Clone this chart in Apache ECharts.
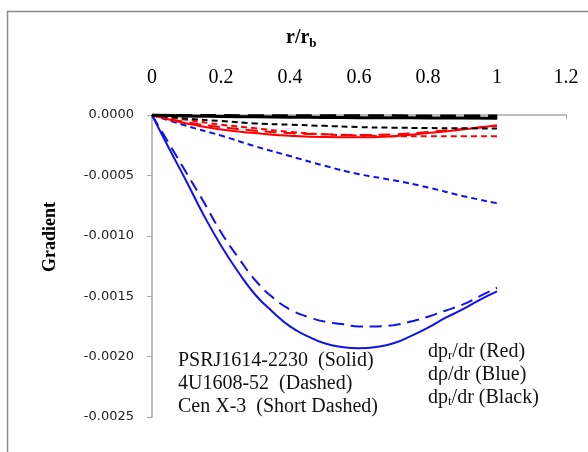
<!DOCTYPE html>
<html lang="en">
<head>
    <meta charset="UTF-8">
    <title>gradient</title>
    <script src="https://cdn.jsdelivr.net/npm/echarts@6/dist/echarts.min.js"></script>
    <style>
        html, body { margin: 0; padding: 0; background: #fff; }
        #chart { width: 588px; height: 452px; }
    </style>
</head>
<body>
    <div id="chart"></div>
</body>
<script type="application/javascript">

    // r/rb grids
    var rFine = [0, 0.05, 0.1, 0.15, 0.2, 0.25, 0.3, 0.35, 0.4, 0.45, 0.5,
                 0.55, 0.6, 0.65, 0.7, 0.75, 0.8, 0.85, 0.9, 0.95, 1.0];
    var rCoarse = [0, 0.1, 0.2, 0.3, 0.4, 0.5, 0.6, 0.7, 0.8, 0.9, 1.0];

    // drho/dr (blue)
    var rhoPSR = [0, -0.00028, -0.00055, -0.00083, -0.00108, -0.0013, -0.00149, -0.00163, -0.00175, -0.00183, -0.00189,
                  -0.00192, -0.00193, -0.00192, -0.00189, -0.00183, -0.00176, -0.00168, -0.00161, -0.00153, -0.00146];
    var rho4U = [0, -0.00024, -0.00048, -0.00072, -0.00097, -0.00118, -0.00137, -0.00151, -0.00161, -0.00167, -0.00171,
                 -0.00173, -0.00175, -0.00175, -0.00174, -0.00171, -0.00167, -0.00162, -0.00157, -0.0015, -0.00143];
    var rhoCen = [0, -0.00009, -0.00017, -0.00026, -0.00034, -0.00042, -0.00049, -0.00054, -0.0006, -0.00067, -0.00073];

    // dpr/dr (red)
    var prPSR = [0, -0.00007, -0.00012, -0.00015, -0.000172, -0.000183, -0.000185, -0.000175, -0.00015, -0.00012, -0.000085];
    var pr4U = [0, -0.00006, -0.0001, -0.00013, -0.00015, -0.00016, -0.000165, -0.00016, -0.00014, -0.000115, -0.00009];
    var prCen = [0, -0.00004, -0.00008, -0.00011, -0.00014, -0.00016, -0.00017, -0.000175, -0.000175, -0.000175, -0.000175];

    // dpt/dr (black)
    var ptPSR = [0, -0.000008, -0.000012, -0.000015, -0.000018, -0.00002, -0.000022, -0.000023, -0.000024, -0.000025, -0.000026];
    var pt4U = [0, -0.000002, -0.000003, -0.000004, -0.000004, -0.000005, -0.000005, -0.000005, -0.000006, -0.000006, -0.000006];
    var ptCen = [0, -0.00003, -0.00005, -0.00007, -0.00008, -0.00009, -0.0001, -0.000105, -0.000108, -0.00011, -0.000112];

    var xTicks = [0, 0.2, 0.4, 0.6, 0.8, 1, 1.2];

    function pairs(xs, ys) {
        var out = [];
        for (var i = 0; i < xs.length; i++) {
            out.push([xs[i], ys[i]]);
        }
        return out;
    }

    function line(name, xs, ys, color, width, dash) {
        return {
            name: name,
            type: 'line',
            data: pairs(xs, ys),
            smooth: true,
            showSymbol: false,
            lineStyle: { color: color, width: width, type: dash },
            animation: false
        };
    }

    var serif = '"Liberation Serif", "Times New Roman", serif';
    var blue = '#1010f0';
    var red = '#ff0000';

    var chart = echarts.init(document.getElementById('chart'));
    var option = {
        backgroundColor: '#fff',
        grid: { left: 152, top: 115, right: 22, bottom: 35 },
        xAxis: {
            type: 'value',
            position: 'top',
            min: 0,
            max: 1.2,
            interval: 0.2,
            axisLine: { lineStyle: { color: '#a6a6a6', width: 1.5 } },
            axisTick: { inside: true, length: 4, lineStyle: { color: '#a6a6a6' } },
            splitLine: { show: false },
            axisLabel: {
                color: '#000',
                fontFamily: serif,
                fontSize: 20,
                margin: 27,
                formatter: function (v) {
                    return xTicks.indexOf(Math.round(v * 10) / 10) >= 0 ? String(Math.round(v * 10) / 10) : '';
                }
            }
        },
        yAxis: {
            type: 'value',
            min: -0.0025,
            max: 0,
            interval: 0.0005,
            axisLine: { show: true, lineStyle: { color: '#a6a6a6', width: 1.5 } },
            axisTick: { show: true, length: 5, lineStyle: { color: '#a6a6a6' } },
            splitLine: { show: false },
            axisLabel: {
                color: '#222',
                fontFamily: '"DejaVu Sans", sans-serif',
                fontSize: 13,
                margin: 18,
                formatter: function (v) { return v.toFixed(4); }
            }
        },
        series: [
            line('PSR rho', rFine, rhoPSR, blue, 2, 'solid'),
            line('4U rho', rFine, rho4U, blue, 2, [12, 7]),
            line('Cen rho', rCoarse, rhoCen, blue, 2, [6, 4]),
            line('PSR pr', rCoarse, prPSR, red, 2, 'solid'),
            line('4U pr', rCoarse, pr4U, red, 2, [12, 7]),
            line('Cen pr', rCoarse, prCen, red, 2, [6, 4]),
            line('PSR pt', rCoarse, ptPSR, '#000', 3, 'solid'),
            line('4U pt', rCoarse, pt4U, '#000', 2.5, [16, 8]),
            line('Cen pt', rCoarse, ptCen, '#000', 2, [6, 4])
        ],
        graphic: [
            {
                type: 'rect',
                shape: { x: 7.5, y: 11.5, width: 700, height: 600 },
                style: { fill: 'none', stroke: '#8c8c8c', lineWidth: 1.5 },
                silent: true
            },
            {
                type: 'text', left: 286, top: 28,
                style: {
                    text: '{m|r/r}{s|b}',
                    rich: {
                        m: { fontFamily: serif, fontSize: 20, fontWeight: 'bold', fill: '#000' },
                        s: { fontFamily: serif, fontSize: 13, fontWeight: 'bold', fill: '#000', padding: [11, 0, 0, 0] }
                    }
                }
            },
            {
                type: 'text', x: 50, y: 237, rotation: Math.PI / 2,
                style: {
                    text: 'Gradient', fontFamily: serif, fontSize: 18, fontWeight: 'bold',
                    fill: '#000', align: 'center', verticalAlign: 'middle'
                }
            },
            {
                type: 'text', left: 178, top: 349,
                style: {
                    text: 'PSRJ1614-2230  (Solid)\n4U1608-52  (Dashed)\nCen X-3  (Short Dashed)',
                    fontFamily: serif, fontSize: 20, lineHeight: 23, fill: '#111'
                }
            },
            {
                type: 'text', left: 428, top: 340,
                style: {
                    text: 'dp{s|r}/dr (Red)\ndρ/dr (Blue)\ndp{s|t}/dr (Black)',
                    fontFamily: serif, fontSize: 20, lineHeight: 23, fill: '#111',
                    rich: {
                        s: { fontFamily: serif, fontSize: 13, fill: '#111', padding: [9, 0, 0, 0] }
                    }
                }
            }
        ]
    };
    chart.setOption(option);
</script>
</html>
